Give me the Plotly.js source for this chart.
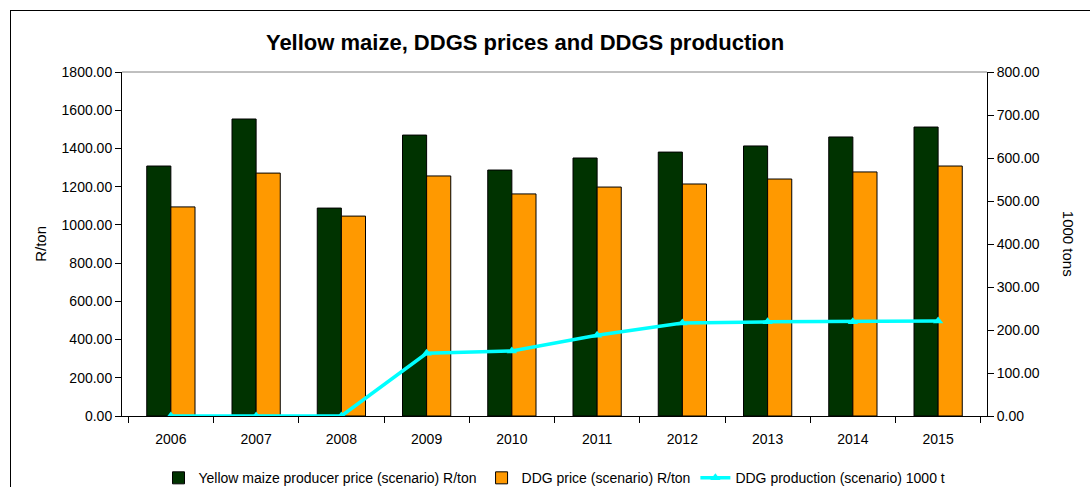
<!DOCTYPE html>
<html>
<head>
<meta charset="utf-8">
<script src="https://cdn.plot.ly/plotly-3.0.1.min.js"></script>
<style>
  html, body { margin: 0; padding: 0; background: #fff; overflow: hidden; }
  #wrap { position: relative; width: 1090px; height: 487px; }
  #chart { width: 1090px; height: 487px; }
  #frame { position: absolute; left: 10px; top: 10px; width: 1100px; height: 500px;
           border: 1.5px solid #000; pointer-events: none; box-sizing: border-box; }
</style>
</head>
<body>
<div id="wrap">
  <div id="chart"></div>
  <div id="frame"></div>
</div>
<script>
const years = ["2006","2007","2008","2009","2010","2011","2012","2013","2014","2015"];
const maizePrice = [1308, 1554, 1088, 1470, 1287, 1350, 1381, 1413, 1460, 1512];
const ddgPrice   = [1094, 1271, 1046, 1256, 1162, 1198, 1214, 1240, 1277, 1308];
const ddgProduction = [0, 0, 0, 146, 151, 188, 216, 219, 219, 221];

const seriesNames = [
  "Yellow maize producer price (scenario) R/ton",
  "DDG price (scenario) R/ton",
  "DDG production (scenario) 1000 t"
];

const font = "Liberation Sans, Arial, sans-serif";

const traces = [
  { type: "bar", x: years, y: maizePrice, name: seriesNames[0],
    marker: { color: "#003300", line: { color: "#000", width: 1 } } },
  { type: "bar", x: years, y: ddgPrice, name: seriesNames[1],
    marker: { color: "#FF9900", line: { color: "#000", width: 1 } } },
  { type: "scatter", mode: "lines+markers", x: years, y: ddgProduction, yaxis: "y2",
    name: seriesNames[2],
    line: { color: "#00FFFF", width: 3.5 },
    marker: { symbol: "triangle-up", size: 9, color: "#00FFFF" } }
];

const layout = {
  width: 1090, height: 487,
  margin: { l: 122, r: 103, t: 72, b: 71, autoexpand: false },
  paper_bgcolor: "#fff", plot_bgcolor: "#fff",
  font: { family: font, size: 14, color: "#000" },
  title: { text: "<b>Yellow maize, DDGS prices and DDGS production</b>",
           font: { family: font, size: 22, color: "#000" },
           x: 0.466, xref: "paper", xanchor: "center", y: 0.913, yanchor: "middle" },
  barmode: "group", bargap: 0.434, bargroupgap: 0,
  showlegend: true,
  legend: { orientation: "h", x: 0.5, xanchor: "center", xref: "paper",
            y: 0.018, yref: "container", yanchor: "middle",
            font: { family: font, size: 14, color: "#000" }, traceorder: "normal",
            itemwidth: 30 },
  xaxis: { type: "category", showgrid: false, showline: true, linecolor: "#000", linewidth: 1,
           ticks: "outside", tickson: "boundaries", ticklen: 6, tickcolor: "#000",
           ticklabelstandoff: 10,
           tickfont: { family: font, size: 14 }, zeroline: false, fixedrange: true,
           automargin: false },
  yaxis: { range: [0, 1800], dtick: 200, tickformat: ".2f", showgrid: false,
           showline: true, linecolor: "#000", linewidth: 1, ticks: "outside", ticklen: 6,
           tickcolor: "#000", tickfont: { family: font, size: 14 }, zeroline: false,
           automargin: false },
  yaxis2: { range: [0, 800], dtick: 100, tickformat: ".2f", overlaying: "y", side: "right",
            showgrid: false, showline: true, linecolor: "#000", linewidth: 1,
            ticks: "outside", ticklen: 6, tickcolor: "#000",
            tickfont: { family: font, size: 14 }, zeroline: false, automargin: false },
  shapes: [
    { type: "line", xref: "paper", yref: "paper", x0: 0, x1: 1, y0: 1, y1: 1,
      line: { color: "#808080", width: 1 } }
  ],
  annotations: [
    { text: "R/ton", xref: "paper", yref: "paper", x: -0.095, y: 0.5, textangle: -90,
      showarrow: false, font: { family: font, size: 15 }, xanchor: "center", yanchor: "middle" },
    { text: "1000 tons", xref: "paper", yref: "paper", x: 1.095, y: 0.5, textangle: 90,
      showarrow: false, font: { family: font, size: 15 }, xanchor: "center", yanchor: "middle" }
  ]
};

Plotly.newPlot("chart", traces, layout, { displayModeBar: false, staticPlot: true });
</script>
</body>
</html>
